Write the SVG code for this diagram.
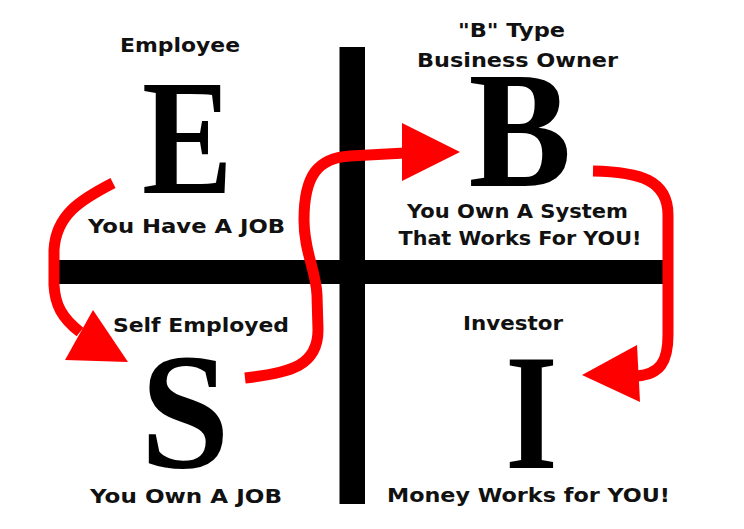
<svg xmlns="http://www.w3.org/2000/svg" width="744" height="529" viewBox="0 0 744 529">
<style>
.lbl{font-family:"DejaVu Sans","Liberation Sans",sans-serif;font-weight:bold;font-size:20px;fill:#111;text-anchor:middle}
.big{font-family:"Liberation Serif","Times New Roman",serif;font-weight:bold;font-size:166px;fill:#000;text-anchor:middle}
.bar{fill:#000}
.flow{fill:none;stroke:#ff0000;stroke-width:11;stroke-linecap:butt;stroke-linejoin:round}
.head{fill:#ff0000}
</style>
<rect width="744" height="529" fill="#fff"/>
<g id="axes">
<rect class="bar" x="339.5" y="47" width="25.5" height="457"/>
<rect class="bar" x="57" y="260" width="608" height="24"/>
</g>
<g id="node-E">
<text class="lbl" x="180" y="52" textLength="120" lengthAdjust="spacingAndGlyphs">Employee</text>
<text class="big" transform="translate(187.5,193) scale(0.82,1)">E</text>
<text class="lbl" x="186.5" y="233" textLength="197" lengthAdjust="spacingAndGlyphs">You Have A JOB</text>
</g>
<g id="node-B">
<text class="lbl" x="511.5" y="37" textLength="107" lengthAdjust="spacingAndGlyphs">"B" Type</text>
<text class="lbl" x="517.5" y="67" textLength="201" lengthAdjust="spacingAndGlyphs">Business Owner</text>
<text class="big" transform="translate(520,186) scale(0.93,1)">B</text>
<text class="lbl" x="517.5" y="218" textLength="221" lengthAdjust="spacingAndGlyphs">You Own A System</text>
<text class="lbl" x="520" y="245" textLength="243" lengthAdjust="spacingAndGlyphs">That Works For YOU!</text>
</g>
<g id="node-S">
<text class="lbl" x="201" y="332" textLength="176" lengthAdjust="spacingAndGlyphs">Self Employed</text>
<text class="big" transform="translate(185,467) scale(0.97,1)">S</text>
<text class="lbl" x="186" y="503" textLength="192" lengthAdjust="spacingAndGlyphs">You Own A JOB</text>
</g>
<g id="node-I">
<text class="lbl" x="513" y="330" textLength="100" lengthAdjust="spacingAndGlyphs">Investor</text>
<text class="big" transform="translate(531.5,468) scale(0.81,1)">I</text>
<text class="lbl" x="528.5" y="502" textLength="283" lengthAdjust="spacingAndGlyphs">Money Works for YOU!</text>
</g>
<g id="connectors">
<path class="flow" d="M113,183 C80,200 56,215 54,250 L54,285 C55,305 62,318 80,332"/>
<polygon class="head" points="93,310 65,360 128,362"/>
<path class="flow" d="M245,378 C290,373 318,366 318,330 L317,295 C316,270 304,252 304,220 C304,175 318,158 350,156 L405,153"/>
<polygon class="head" points="402,123 402,181 460,152"/>
<path class="flow" d="M593,171 C640,172 668,180 668,215 L668,335 C668,362 660,374 637,376"/>
<polygon class="head" points="582,375 637,345 640,402"/>
</g>
</svg>
